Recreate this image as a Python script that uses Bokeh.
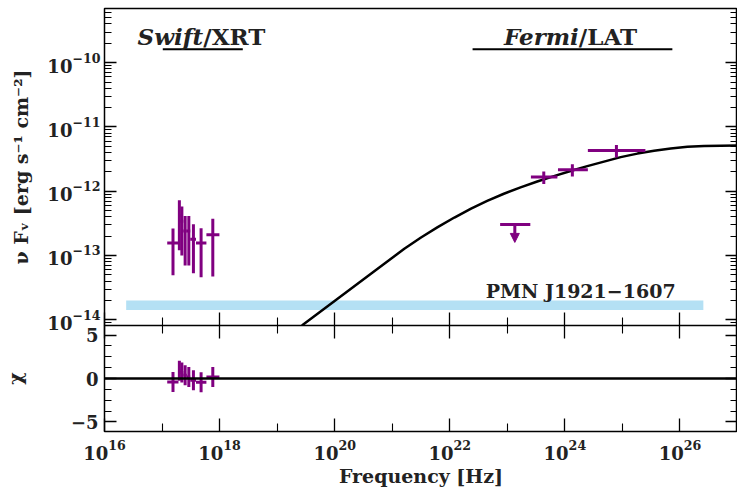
import numpy as np
from bokeh.plotting import figure
from bokeh.layouts import column
from bokeh.models import (Range1d, FixedTicker, LogAxis, LinearAxis, LogTickFormatter,
                          CustomJSTickFormatter, Label, Span, Arrow, NormalHead,
                          ColumnDataSource)
from bokeh.embed import file_html
from bokeh.resources import INLINE

# ---------------- data ----------------
# Swift/XRT spectral points
xrt_nu = [1.55e17, 2.00e17, 2.21e17, 2.52e17, 2.92e17, 3.51e17, 4.77e17, 7.62e17]
xrt_nu_lo = [1.23e17, 1.93e17, 2.09e17, 2.34e17, 2.69e17, 3.09e17, 3.89e17, 5.90e17]
xrt_nu_hi = [1.93e17, 2.09e17, 2.34e17, 2.69e17, 3.09e17, 3.89e17, 5.90e17, 9.93e17]
xrt_flux = [1.56e-13, 4.20e-13, 3.40e-13, 2.40e-13, 2.40e-13, 1.79e-13, 1.56e-13, 2.10e-13]
xrt_flux_err = [1.07e-13, 3.00e-13, 2.40e-13, 1.70e-13, 1.70e-13, 1.26e-13, 1.10e-13, 1.63e-13]
xrt_chi = [-0.39, 0.90, 0.69, 0.38, 0.18, -0.20, -0.43, 0.18]
xrt_chi_err = [1.15, 1.15, 1.15, 1.15, 1.15, 1.15, 1.15, 1.15]

# Fermi/LAT spectral points
lat_nu = [4.30e23, 1.35e24, 7.87e24]
lat_nu_lo = [2.57e23, 7.59e23, 2.51e24]
lat_nu_hi = [7.41e23, 2.51e24, 2.51e25]
lat_flux = [1.66e-12, 2.16e-12, 4.28e-12]
lat_flux_err = [0.37e-12, 0.46e-12, 0.95e-12]
# Fermi/LAT upper limit
lat_ul_nu = [1.35e23]
lat_ul_nu_lo = [7.50e22]
lat_ul_nu_hi = [2.51e23]
lat_ul_flux = [3.04e-13]

# model curve (log10 values)
model_log_nu = [19.43, 20.01, 20.63, 21.21, 21.50, 21.79, 22.08, 22.37, 22.65, 22.94,
                23.23, 23.52, 23.81, 24.10, 24.39, 24.68, 24.97, 25.26, 25.55,
                25.84, 26.13, 26.42, 26.71, 27.00]
model_log_flux = [-14.09, -13.70, -13.285, -12.896, -12.72, -12.56, -12.41, -12.27,
                  -12.15, -12.04, -11.94, -11.85, -11.765, -11.685, -11.61, -11.54,
                  -11.47, -11.415, -11.37, -11.335, -11.31, -11.298, -11.292, -11.29]

# instrument energy bands (title bars)
band_names = ["Swift", "Fermi"]
band_suffix = ["/XRT", "/LAT"]
band_lo = [1.03e17, 2.49e22]
band_hi = [2.53e18, 7.38e25]
band_flux = [1.62e-10, 1.62e-10]
band_label_nu = [5.2e17, 1.75e24]
band_label_flux = [2.58e-10, 2.58e-10]

# light-blue horizontal bar
bar_nu = [2.38e16, 2.55e26]
bar_flux = [1.68e-14, 1.68e-14]

source_name = "PMN J1921\u22121607"
source_label_nu = 8.4e25
source_label_flux = 2.78e-14

# axes
x_major = [1e16, 1e18, 1e20, 1e22, 1e24, 1e26]
x_minor = [1e17, 1e19, 1e21, 1e23, 1e25, 1e27]
y_major = [1e-14, 1e-13, 1e-12, 1e-11, 1e-10]
chi_major = [-5, 0, 5]
chi_minor = [-3.75, -2.5, -1.25, 1.25, 2.5, 3.75]

x_lim = (1e16, 1e27)
y_lim = (10 ** -14.09, 10 ** -9.157)
chi_lim = (-6.1, 6.1)

# ---------------- styling ----------------
FONT = "DejaVu Serif"
PURPLE = "#800080"
BLUE = "#b4e0f4"
INK = "#222222"

y_minor = [m * 10.0 ** e for e in range(-15, -9) for m in range(2, 10)
           if y_lim[0] < m * 10.0 ** e < y_lim[1]]


def style_axis(ax, major_in=12, minor_in=7, labels=True, size="18px"):
    ax.major_tick_in = major_in
    ax.major_tick_out = 0
    ax.minor_tick_in = minor_in
    ax.minor_tick_out = 0
    ax.major_tick_line_width = 1.3
    ax.minor_tick_line_width = 1.1
    ax.major_tick_line_color = "black"
    ax.minor_tick_line_color = "black"
    ax.axis_line_color = None
    ax.major_label_text_font = FONT
    ax.major_label_text_font_style = "bold"
    ax.major_label_text_color = INK
    ax.axis_label_text_font = FONT
    ax.axis_label_text_font_style = "bold"
    ax.axis_label_text_color = INK
    ax.axis_label_text_font_size = "19px"
    if labels:
        ax.major_label_text_font_size = size
    else:
        ax.formatter = CustomJSTickFormatter(code="return ''")
        ax.major_label_text_font_size = "0px"
        ax.major_label_standoff = 0


x_range = Range1d(*x_lim)
OVERLAP = 14

# ---------------- top panel ----------------
top = figure(width=737, height=325 + OVERLAP, x_axis_type="log", y_axis_type="log",
             x_range=x_range, y_range=Range1d(*y_lim),
             output_backend="svg", toolbar_location=None,
             min_border_left=103, min_border_right=0, min_border_top=8,
             min_border_bottom=OVERLAP)
top.grid.visible = False
top.outline_line_color = "black"
top.outline_line_width = 1.5
top.background_fill_color = "white"
top.border_fill_color = "white"

top.xaxis.ticker = FixedTicker(ticks=x_major, minor_ticks=x_minor)
style_axis(top.xaxis[0], major_in=13, minor_in=8, labels=False)

top.yaxis.ticker = FixedTicker(ticks=y_major, minor_ticks=y_minor)
top.yaxis.formatter = LogTickFormatter()
style_axis(top.yaxis[0])
top.yaxis.major_label_standoff = 4
top.yaxis.axis_label = "\u03bd F\u1d65 [erg s\u207b\u00b9 cm\u207b\u00b2]"
top.yaxis.axis_label_standoff = 12

right_top = LogAxis(ticker=FixedTicker(ticks=y_major, minor_ticks=y_minor))
style_axis(right_top, labels=False)
top.add_layout(right_top, "right")

# light-blue bar
top.line(bar_nu, bar_flux, line_color=BLUE, line_width=9.5, line_cap="butt")

# model
model_nu = [10.0 ** v for v in model_log_nu]
model_flux = [10.0 ** v for v in model_log_flux]
top.line(model_nu, model_flux, line_color="black", line_width=2.5)

# XRT points
xrt = ColumnDataSource(dict(
    nu=xrt_nu, lo=xrt_nu_lo, hi=xrt_nu_hi, f=xrt_flux,
    fl=[f - e for f, e in zip(xrt_flux, xrt_flux_err)],
    fh=[f + e for f, e in zip(xrt_flux, xrt_flux_err)]))
top.segment(x0="lo", y0="f", x1="hi", y1="f", source=xrt,
            line_color=PURPLE, line_width=3)
top.segment(x0="nu", y0="fl", x1="nu", y1="fh", source=xrt,
            line_color=PURPLE, line_width=3)

# LAT points
lat = ColumnDataSource(dict(
    nu=lat_nu, lo=lat_nu_lo, hi=lat_nu_hi, f=lat_flux,
    fl=[f - e for f, e in zip(lat_flux, lat_flux_err)],
    fh=[f + e for f, e in zip(lat_flux, lat_flux_err)]))
top.segment(x0="lo", y0="f", x1="hi", y1="f", source=lat,
            line_color=PURPLE, line_width=3)
top.segment(x0="nu", y0="fl", x1="nu", y1="fh", source=lat,
            line_color=PURPLE, line_width=3)

# LAT upper limit
ul = ColumnDataSource(dict(nu=lat_ul_nu, lo=lat_ul_nu_lo, hi=lat_ul_nu_hi,
                           f=lat_ul_flux, tip=[f * 10 ** -0.28 for f in lat_ul_flux]))
top.segment(x0="lo", y0="f", x1="hi", y1="f", source=ul,
            line_color=PURPLE, line_width=3)
top.add_layout(Arrow(end=NormalHead(size=9, fill_color=PURPLE, line_color=PURPLE,
                                    line_width=1),
                     x_start="nu", y_start="f", x_end="nu", y_end="tip",
                     source=ul, line_color=PURPLE, line_width=3))

# instrument band bars and labels
top.segment(x0=band_lo, y0=band_flux, x1=band_hi, y1=band_flux,
            line_color="black", line_width=2)
for name, suf, bx, by in zip(band_names, band_suffix, band_label_nu, band_label_flux):
    top.add_layout(Label(x=bx, y=by, text=name, text_align="right",
                         text_baseline="alphabetic", text_font=FONT,
                         text_font_style="bold italic", text_font_size="23px",
                         text_color=INK))
    top.add_layout(Label(x=bx, y=by, text=suf, text_align="left",
                         text_baseline="alphabetic", text_font=FONT,
                         text_font_style="bold", text_font_size="23px",
                         text_color=INK))

top.add_layout(Label(x=source_label_nu, y=source_label_flux, text=source_name,
                     text_align="right", text_baseline="alphabetic",
                     text_font=FONT, text_font_style="bold",
                     text_font_size="19px", text_color=INK))

# ---------------- residual panel ----------------
bot = figure(width=737, height=164, x_axis_type="log",
             x_range=x_range, y_range=Range1d(*chi_lim),
             output_backend="svg", toolbar_location=None,
             min_border_left=103, min_border_right=0, min_border_top=0,
             min_border_bottom=0,
             styles={"margin-top": "-%dpx" % OVERLAP})
bot.grid.visible = False
bot.outline_line_color = "black"
bot.outline_line_width = 1.5
bot.background_fill_color = "white"
bot.border_fill_color = "white"
bot.border_fill_alpha = 0.0

bot.xaxis.ticker = FixedTicker(ticks=x_major, minor_ticks=x_minor)
bot.xaxis.formatter = LogTickFormatter()
style_axis(bot.xaxis[0], major_in=13, minor_in=8)
bot.xaxis.major_label_standoff = 8
bot.xaxis.axis_label = "Frequency [Hz]"
bot.xaxis.axis_label_standoff = 2

above = LogAxis(ticker=FixedTicker(ticks=x_major, minor_ticks=x_minor))
style_axis(above, major_in=13, minor_in=8, labels=False)
bot.add_layout(above, "above")

bot.yaxis.ticker = FixedTicker(ticks=chi_major, minor_ticks=chi_minor)
style_axis(bot.yaxis[0])
bot.yaxis.major_label_standoff = 6
bot.yaxis.axis_label = "\u03c7"
bot.yaxis.axis_label_standoff = 42

right_bot = LinearAxis(ticker=FixedTicker(ticks=chi_major, minor_ticks=chi_minor))
style_axis(right_bot, labels=False)
bot.add_layout(right_bot, "right")

bot.add_layout(Span(location=0, dimension="width", line_color="black", line_width=2.5))

res = ColumnDataSource(dict(
    nu=xrt_nu, lo=xrt_nu_lo, hi=xrt_nu_hi, c=xrt_chi,
    cl=[c - e for c, e in zip(xrt_chi, xrt_chi_err)],
    ch=[c + e for c, e in zip(xrt_chi, xrt_chi_err)]))
bot.segment(x0="lo", y0="c", x1="hi", y1="c", source=res,
            line_color=PURPLE, line_width=3)
bot.segment(x0="nu", y0="cl", x1="nu", y1="ch", source=res,
            line_color=PURPLE, line_width=3)

layout = column(top, bot, spacing=0)
open("out.html", "w").write(file_html(layout, INLINE))
